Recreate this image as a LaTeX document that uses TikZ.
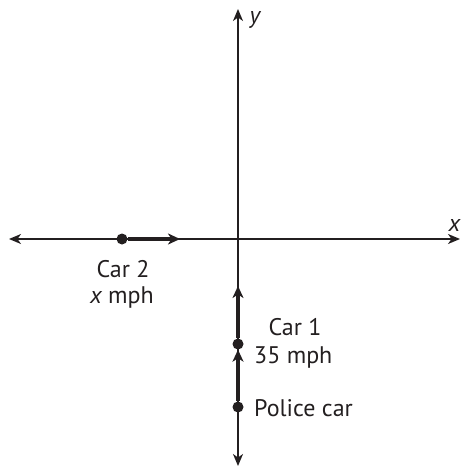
\documentclass[tikz,border=0pt]{standalone}
\usepackage{fontspec}
\setmainfont{PT Sans}
\usetikzlibrary{arrows.meta}
\definecolor{ink}{HTML}{231F20}
\begin{document}
\begin{tikzpicture}[x=1pt,y=-1pt,
  axis/.style={draw=ink,line width=1.4pt,{Stealth[length=12pt,width=10pt,inset=3.5pt]}-{Stealth[length=12pt,width=10pt,inset=3.5pt]}},
  motion/.style={draw=ink,line width=3.2pt,-{Stealth[length=12pt,width=11pt,inset=3.5pt]}},
  dot/.style={circle,fill=ink,inner sep=0pt,minimum size=11pt},
  lbl/.style={text=ink,font=\fontsize{24}{28}\selectfont,inner sep=0pt}]
\useasboundingbox (0,0) rectangle (460,468);
% axes
\coordinate (xl) at (9,239);
\coordinate (xr) at (460,239);
\coordinate (yt) at (238,9);
\coordinate (yb) at (238,466);
\draw[axis] (xl) -- (xr);
\draw[axis] (yb) -- (yt);
\node[lbl,font=\fontsize{24}{28}\selectfont\itshape,anchor=east] (xlab) at (460.5,225) {x};
\node[lbl,font=\fontsize{24}{28}\selectfont\itshape] (ylab) at (255,20) {y};
% cars
\node[dot] (car2) at (122,239) {};
\node[dot] (car1) at (238,344) {};
\node[dot] (police) at (238,407) {};
\coordinate (car2tip) at (180,239);
\coordinate (car1tip) at (238,286);
\draw[motion] (car2) -- (car2tip);
\draw[motion] (car1) -- (car1tip);
\draw[motion] (police) -- (car1.south);
% labels
\node[lbl] (car2a) at (123,269) {Car 2};
\node[lbl] (car2b) at (122,297) {\itshape x\upshape\ mph};
\node[lbl] (car1a) at (295,327) {Car 1};
\node[lbl,anchor=west] (car1b) at (254,357) {35 mph};
\node[lbl,anchor=west] (pol) at (254,408) {Police car};
\end{tikzpicture}
\end{document}
